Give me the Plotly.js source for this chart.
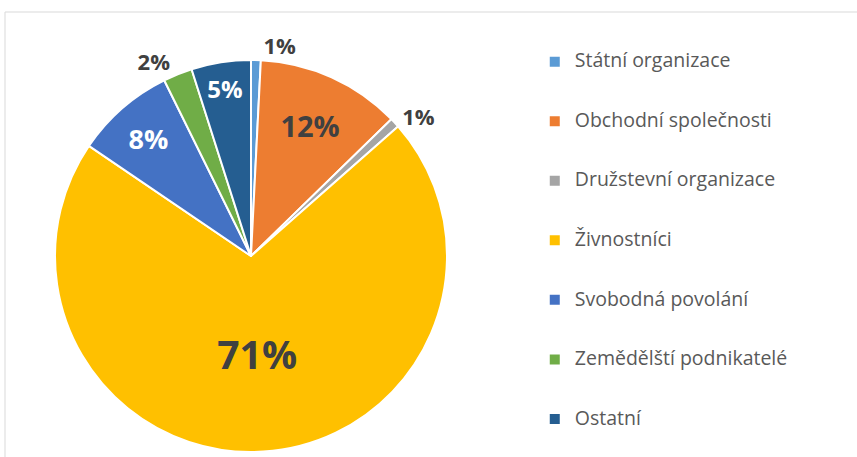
<!DOCTYPE html>
<html>
<head>
<meta charset="utf-8">
<script src="https://cdn.plot.ly/plotly-3.0.1.min.js"></script>
<style>html,body{margin:0;padding:0;background:#fff;}#chart{width:857px;height:457px;}</style>
</head>
<body>
<div id="chart"></div>
<script>
// Data (share of total, %)
var categories = ["Státní organizace", "Obchodní společnosti", "Družstevní organizace", "Živnostníci", "Svobodná povolání", "Zemědělští podnikatelé", "Ostatní"];
var values = [0.8, 11.9, 0.8, 71.0, 8.2, 2.4, 4.9];
var colors = ["#5B9BD5", "#ED7D31", "#A5A5A5", "#FFC000", "#4472C4", "#70AD47", "#255E91"];

var textPositions = ["outside", "inside", "outside", "inside", "inside", "outside", "inside"];
var textColors = ["#404040", "#404040", "#404040", "#404040", "#ffffff", "#404040", "#ffffff"];
var textSizes = [22, 29, 22, 39, 27, 22, 24];

// legend labels padded with blank lines to get the wide row spacing
var legendLabels = categories.map(function (c) {
  return "<br><span style=\"font-size:19.5px\">" + c + "</span><br> ";
});

var trace = {
  type: "pie",
  labels: legendLabels,
  values: values,
  sort: false,
  direction: "clockwise",
  rotation: 0,
  marker: { colors: colors, line: { color: "#ffffff", width: 2 } },
  texttemplate: "%{percent:.0%}",
  textposition: textPositions,
  insidetextorientation: "horizontal",
  textfont: { family: "Open Sans, sans-serif", color: textColors, size: textSizes, weight: "bold" },
  hoverinfo: "none",
  domain: { x: [55 / 857, 447 / 857], y: [5 / 457, 397 / 457] }
};

var layout = {
  width: 857,
  height: 457,
  margin: { l: 0, r: 0, t: 0, b: 0 },
  paper_bgcolor: "#ffffff",
  showlegend: true,
  legend: {
    x: 0.624,
    y: 0.9412,
    xanchor: "left",
    yanchor: "top",
    font: { family: "Open Sans, sans-serif", size: 14.5, color: "#595959" },
    bgcolor: "rgba(0,0,0,0)"
  },
  shapes: [{
    type: "rect", xref: "paper", yref: "paper",
    x0: 5 / 857, x1: 1.2, y0: -0.2, y1: (457 - 12) / 457,
    line: { color: "#D9D9D9", width: 1 }, fillcolor: "rgba(0,0,0,0)", layer: "below"
  }]
};

Plotly.newPlot("chart", [trace], layout, { displayModeBar: false, staticPlot: true });
</script>
</body>
</html>
